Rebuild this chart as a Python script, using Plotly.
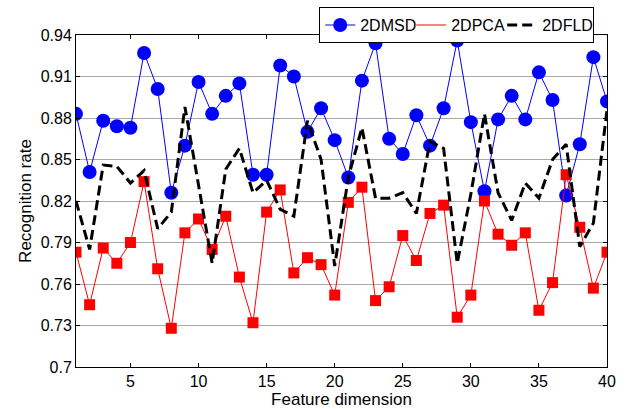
import plotly.graph_objects as go

# Feature dimension (1..40)
dims = list(range(1, 41))

# Recognition rates per method
rate_2dmsd = [0.883, 0.841, 0.878, 0.874, 0.873, 0.927, 0.901, 0.826, 0.860, 0.906,
              0.883, 0.896, 0.905, 0.839, 0.839, 0.918, 0.910, 0.870, 0.887, 0.864,
              0.837, 0.907, 0.934, 0.865, 0.854, 0.882, 0.860, 0.887, 0.936, 0.877,
              0.827, 0.879, 0.896, 0.879, 0.913, 0.893, 0.824, 0.861, 0.924, 0.892]
rate_2dpca = [0.783, 0.745, 0.786, 0.775, 0.790, 0.834, 0.771, 0.728, 0.797, 0.807,
              0.785, 0.809, 0.765, 0.732, 0.812, 0.828, 0.768, 0.779, 0.774, 0.752,
              0.819, 0.830, 0.748, 0.758, 0.795, 0.777, 0.811, 0.817, 0.736, 0.752,
              0.820, 0.796, 0.788, 0.797, 0.741, 0.761, 0.839, 0.801, 0.757, 0.783]
rate_2dfld = [0.820, 0.785, 0.846, 0.845, 0.833, 0.842, 0.800, 0.812, 0.888, 0.832,
              0.775, 0.843, 0.858, 0.826, 0.835, 0.814, 0.809, 0.878, 0.850, 0.773,
              0.837, 0.873, 0.822, 0.822, 0.826, 0.811, 0.863, 0.858, 0.775, 0.825,
              0.883, 0.826, 0.806, 0.833, 0.822, 0.850, 0.861, 0.787, 0.804, 0.886]

y_ticks = [0.70, 0.73, 0.76, 0.79, 0.82, 0.85, 0.88, 0.91, 0.94]
y_tick_text = ["0.7", "0.73", "0.76", "0.79", "0.82", "0.85", "0.88", "0.91", "0.94"]
x_ticks = [5, 10, 15, 20, 25, 30, 35, 40]

FONT = "Liberation Sans, Arial, sans-serif"

fig = go.Figure()

fig.add_trace(go.Scatter(
    x=dims, y=rate_2dmsd, name="2DMSD", mode="lines+markers",
    line=dict(color="#0000ff", width=1),
    marker=dict(symbol="circle", size=14, color="#0000ff"),
))
fig.add_trace(go.Scatter(
    x=dims, y=rate_2dpca, name="2DPCA", mode="lines+markers", showlegend=False,
    line=dict(color="#ff0000", width=1),
    marker=dict(symbol="square", size=11, color="#ff0000"),
))
# legend entry for 2DPCA shows the line only
fig.add_trace(go.Scatter(
    x=[None], y=[None], name="2DPCA", mode="lines",
    line=dict(color="#ff0000", width=1),
))
fig.add_trace(go.Scatter(
    x=dims, y=rate_2dfld, name="2DFLD", mode="lines",
    line=dict(color="#000000", width=3, dash="10px,5px"),
))

fig.update_layout(
    width=628, height=409,
    margin=dict(l=76, r=21, t=35, b=42, autoexpand=False),
    paper_bgcolor="white", plot_bgcolor="white",
    font=dict(family=FONT, size=16, color="black"),
    showlegend=True,
    legend=dict(
        orientation="h", x=0.458, y=1.084, xanchor="left", yanchor="top",
        bgcolor="white", bordercolor="black", borderwidth=1,
        font=dict(family=FONT, size=16, color="black"),
        itemwidth=30, tracegroupgap=0, entrywidth=46, entrywidthmode="pixels",
    ),
)

fig.update_xaxes(
    range=[1, 40], tickvals=x_ticks, ticks="inside", ticklen=4,
    tickcolor="black", showline=True, linecolor="black", linewidth=1,
    mirror="ticks", showgrid=False, zeroline=False,
    title=dict(text="Feature dimension", standoff=1, font=dict(size=17)),
    tickfont=dict(size=16),
)
fig.update_yaxes(
    range=[0.70, 0.94], tickvals=y_ticks, ticktext=y_tick_text,
    ticks="inside", ticklen=4, tickcolor="black",
    showline=True, linecolor="black", linewidth=1, mirror="ticks",
    showgrid=True, gridcolor="#a8a8a8", gridwidth=1, zeroline=False,
    title=dict(text="Recognition rate", standoff=4, font=dict(size=17)),
    tickfont=dict(size=16),
)

fig.write_html("out.html")
